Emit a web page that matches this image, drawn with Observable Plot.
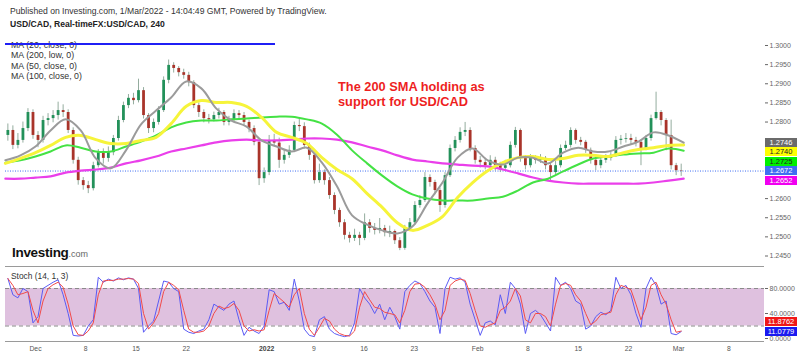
<!DOCTYPE html>
<html><head><meta charset="utf-8">
<script src="https://cdn.jsdelivr.net/npm/d3@7"></script>
<script src="https://cdn.jsdelivr.net/npm/@observablehq/plot@0.6"></script>
<style>
body{margin:0;background:#fff;font-family:Arial,"Liberation Sans",sans-serif;}
#wrap{position:relative;width:800px;height:357px;overflow:hidden;background:#fff;}
.layer{position:absolute;left:0;}
.hline{position:absolute;height:1px;background:#9a9a9a;}
.box{position:absolute;left:765px;width:32px;height:9px;font-size:7.5px;line-height:9px;text-align:center;}
</style></head><body><div id="wrap"></div>
<script>
// ---------- DATA (12h candles, trading-day index; Dec 1 = day 3) ----------
const firstOpen = 1.2765;
const closes = [1.2778,1.2739,1.2752,1.2783,1.2825,1.2765,1.2752,1.2804,1.2809,1.2817,
 1.2830,1.2825,1.2778,1.2700,1.2647,1.2634,1.2626,1.2686,1.2720,1.2705,
 1.2720,1.2757,1.2804,1.2843,1.2862,1.2856,1.2882,1.2817,1.2783,1.2799,
 1.2830,1.2909,1.2948,1.2940,1.2929,1.2922,1.2903,1.2843,1.2825,1.2809,
 1.2806,1.2817,1.2825,1.2799,1.2804,1.2822,1.2817,1.2799,1.2783,1.2747,
 1.2652,1.2668,1.2752,1.2745,1.2700,1.2713,1.2726,1.2791,1.2788,1.2739,
 1.2713,1.2647,1.2668,1.2647,1.2608,1.2569,1.2537,1.2504,1.2496,1.2504,
 1.2496,1.2537,1.2522,1.2517,1.2522,1.2511,1.2514,1.2490,1.2470,1.2522,
 1.2537,1.2582,1.2595,1.2655,1.2642,1.2621,1.2582,1.2660,1.2731,1.2752,
 1.2773,1.2778,1.2731,1.2700,1.2694,1.2686,1.2700,1.2686,1.2679,1.2686,
 1.2739,1.2778,1.2705,1.2686,1.2705,1.2700,1.2705,1.2686,1.2668,1.2686,
 1.2731,1.2739,1.2778,1.2752,1.2747,1.2726,1.2700,1.2686,1.2700,1.2705,
 1.2713,1.2752,1.2755,1.2757,1.2752,1.2747,1.2731,1.2757,1.2809,1.2825,
 1.2804,1.2765,1.2686,1.2673,1.2672];
const highs = [1.2795,1.2790,1.2770,1.2800,1.2835,1.2832,1.2775,1.2815,1.2822,1.2830,
 1.2852,1.2845,1.2832,1.2785,1.2708,1.2655,1.2645,1.2695,1.2728,1.2730,
 1.2735,1.2765,1.2815,1.2852,1.2872,1.2875,1.2912,1.2890,1.2822,1.2808,
 1.2840,1.2918,1.2962,1.2955,1.2945,1.2938,1.2930,1.2908,1.2850,1.2832,
 1.2820,1.2826,1.2836,1.2830,1.2815,1.2832,1.2830,1.2825,1.2805,1.2790,
 1.2752,1.2680,1.2765,1.2768,1.2758,1.2725,1.2738,1.2800,1.2812,1.2798,
 1.2745,1.2718,1.2690,1.2675,1.2655,1.2615,1.2575,1.2545,1.2512,1.2520,
 1.2512,1.2560,1.2545,1.2535,1.2548,1.2530,1.2528,1.2518,1.2498,1.2530,
 1.2548,1.2592,1.2608,1.2668,1.2662,1.2648,1.2628,1.2668,1.2740,1.2762,
 1.2785,1.2799,1.2785,1.2738,1.2710,1.2705,1.2712,1.2708,1.2695,1.2700,
 1.2748,1.2786,1.2782,1.2712,1.2715,1.2712,1.2715,1.2710,1.2692,1.2698,
 1.2740,1.2750,1.2785,1.2782,1.2760,1.2752,1.2732,1.2708,1.2712,1.2715,
 1.2722,1.2762,1.2765,1.2770,1.2768,1.2760,1.2752,1.2765,1.2818,1.2878,
 1.2830,1.2809,1.2805,1.2692,1.2690];
const lows = [1.2750,1.2728,1.2730,1.2745,1.2775,1.2755,1.2733,1.2745,1.2790,1.2798,
 1.2805,1.2812,1.2770,1.2690,1.2635,1.2622,1.2613,1.2620,1.2680,1.2690,
 1.2695,1.2712,1.2750,1.2798,1.2835,1.2845,1.2850,1.2808,1.2770,1.2772,
 1.2792,1.2825,1.2900,1.2928,1.2918,1.2912,1.2892,1.2835,1.2812,1.2798,
 1.2795,1.2800,1.2808,1.2790,1.2790,1.2798,1.2806,1.2790,1.2772,1.2738,
 1.2634,1.2640,1.2660,1.2738,1.2679,1.2690,1.2705,1.2720,1.2775,1.2730,
 1.2700,1.2638,1.2640,1.2635,1.2598,1.2558,1.2525,1.2492,1.2484,1.2488,
 1.2477,1.2490,1.2510,1.2505,1.2508,1.2500,1.2498,1.2480,1.2464,1.2465,
 1.2515,1.2530,1.2575,1.2590,1.2630,1.2610,1.2564,1.2575,1.2655,1.2722,
 1.2745,1.2762,1.2722,1.2690,1.2680,1.2675,1.2678,1.2672,1.2668,1.2672,
 1.2680,1.2732,1.2695,1.2675,1.2680,1.2690,1.2692,1.2675,1.2642,1.2660,
 1.2680,1.2725,1.2732,1.2742,1.2738,1.2718,1.2690,1.2673,1.2678,1.2692,
 1.2698,1.2708,1.2740,1.2745,1.2740,1.2735,1.2686,1.2725,1.2750,1.2805,
 1.2790,1.2725,1.2675,1.2660,1.2658];

// moving averages sampled every 1.5 trading days
const ma20 = [1.2700,1.2713,1.2736,1.2778,1.2807,1.2778,1.2705,1.2679,1.2726,1.2794,
 1.2830,1.2864,1.2906,1.2888,1.2835,1.2804,1.2788,1.2752,1.2736,1.2723,
 1.2733,1.2694,1.2632,1.2556,1.2532,1.2517,1.2509,1.2527,1.2587,1.2642,
 1.2707,1.2731,1.2700,1.2689,1.2707,1.2707,1.2692,1.2720,1.2733,1.2723,
 1.2723,1.2736,1.2749,1.2773,1.2765,1.2746];
const ma50 = [1.2692,1.2705,1.2720,1.2739,1.2760,1.2765,1.2754,1.2744,1.2744,1.2752,
 1.2760,1.2796,1.2841,1.2856,1.2851,1.2851,1.2841,1.2812,1.2773,1.2760,
 1.2744,1.2707,1.2676,1.2652,1.2613,1.2577,1.2537,1.2517,1.2530,1.2553,
 1.2603,1.2642,1.2673,1.2694,1.2707,1.2710,1.2702,1.2705,1.2713,1.2713,
 1.2710,1.2720,1.2728,1.2733,1.2739,1.2740];
const ma100 = [1.2694,1.2700,1.2710,1.2723,1.2739,1.2733,1.2723,1.2723,1.2736,1.2749,
 1.2765,1.2786,1.2799,1.2804,1.2804,1.2807,1.2809,1.2812,1.2814,1.2814,
 1.2807,1.2796,1.2767,1.2726,1.2692,1.2660,1.2632,1.2611,1.2600,1.2595,
 1.2595,1.2595,1.2600,1.2605,1.2621,1.2642,1.2652,1.2671,1.2689,1.2705,
 1.2710,1.2715,1.2718,1.2720,1.2731,1.2725];
const ma200 = [1.2652,1.2652,1.2655,1.2658,1.2668,1.2673,1.2676,1.2681,1.2692,1.2700,
 1.2710,1.2723,1.2731,1.2739,1.2747,1.2752,1.2754,1.2752,1.2752,1.2754,
 1.2757,1.2757,1.2754,1.2747,1.2736,1.2726,1.2713,1.2702,1.2697,1.2692,
 1.2689,1.2686,1.2684,1.2676,1.2666,1.2655,1.2647,1.2642,1.2639,1.2639,
 1.2639,1.2639,1.2639,1.2642,1.2647,1.2652];

// Stochastic (14,1,3): %K and %D per candle
const stochK = [96,70,65,80,75,25,35,80,85,90,
 94,70,40,5,4,5,20,30,98,90,
 95,92,97,94,97,95,80,10,20,28,
 60,92,90,80,75,15,10,8,12,15,
 30,55,50,45,55,60,30,5,18,12,
 8,20,78,75,55,58,45,95,60,15,
 5,3,30,35,15,8,5,3,5,25,
 80,65,55,40,55,30,50,35,15,75,
 85,92,88,75,60,50,8,80,98,95,
 97,90,55,30,5,25,28,22,70,40,
 90,80,55,8,40,45,38,25,12,98,
 85,90,80,60,55,15,20,35,42,38,
 45,98,80,85,70,40,18,80,98,85,
 55,60,8,6,11.0779];
const stochD = [96,85,70,72,75,45,25,60,80,86,
 90,82,55,20,6,5,12,25,70,92,
 93,93,95,95,96,95,88,40,15,25,
 40,75,90,85,78,45,15,10,10,12,
 20,40,52,48,50,56,45,20,12,14,
 12,14,45,72,65,58,50,70,80,40,
 15,5,18,32,28,15,8,5,4,12,
 50,75,62,50,48,42,40,38,25,45,
 75,87,88,82,70,55,30,45,85,92,
 95,93,72,45,20,18,22,25,45,50,
 60,80,68,30,25,40,40,35,20,55,
 85,88,85,70,60,40,22,28,38,40,
 42,70,85,82,78,55,30,50,85,90,
 70,55,30,10,11.8762];

const yTicks = [1.245,1.250,1.255,1.260,1.265,1.270,1.275,1.280,1.285,1.290,1.295,1.300];
const stochTicks = [0,40,80];
const stochBand = [20,80];
const xTickDays = [3,8,13,18,26,30.7,35.7,40.7,47,52,57,62,67,72];
const xTickLabels = ["Dec","8","15","22","2022","9","16","23","Feb","8","15","22","Mar","8"];
const maLegend = ["MA (20, close, 0)","MA (200, low, 0)","MA (50, close, 0)","MA (100, close, 0)"];

// ---------- BUILD ----------
const UP = "#23915a", DOWN = "#a9342a", WICK = "#94ac9e";
const X_DOMAIN = [0.015, 75.54];
const Y_DOMAIN = [1.24226, 1.30235];
const S_DOMAIN = [-6.4, 115.2];
const MAIN_H = 230, STOCH_H = 91, STOCH_MB = 15;
const MAIN_TOP = 36, STOCH_TOP = 266;
const FONT = "Arial, 'Liberation Sans', sans-serif";
const f4 = d3.format(".4f");

const candles = closes.map((c, k) => {
  const o = k ? closes[k - 1] : firstOpen;
  return {t: k / 2 + 0.25, o, c, h: Math.max(highs[k], o, c), l: Math.min(lows[k], o, c), col: c >= o ? UP : DOWN};
});
const maRows = ma20.map((_, j) => ({t: j * 1.5, ma20: ma20[j], ma50: ma50[j], ma100: ma100[j], ma200: ma200[j]}));
const stochRows = stochK.map((k, i) => ({t: i / 2 + 0.25, k, d: stochD[i]}));
const xTicks = xTickDays.map((t, i) => ({t, label: xTickLabels[i], bold: xTickLabels[i] === "2022"}));
const last = closes[closes.length - 1];

// value boxes on the right axis: place them first so covered tick labels can be left out
function layoutBoxes(items, scale, dir) {
  const pos = items.map(d => ({...d, y: scale.apply(d.v)}));
  pos.sort((a, b) => a.y - b.y);
  const gap = 9.5;
  if (dir > 0) { for (let i = 1; i < pos.length; i++) if (pos[i].y - pos[i-1].y < gap) pos[i].y = pos[i-1].y + gap; }
  else { for (let i = pos.length - 2; i >= 0; i--) if (pos[i+1].y - pos[i].y < gap) pos[i].y = pos[i+1].y - gap; }
  return pos;
}
const yScale = Plot.scale({y: {domain: Y_DOMAIN, range: [MAIN_H, 0]}});
const sScale = Plot.scale({y: {domain: S_DOMAIN, range: [STOCH_H - STOCH_MB, 0]}});
const mainBoxes = layoutBoxes([
  {v: ma20[ma20.length - 1], bg: "#6b6b6b", fg: "#fff"},
  {v: ma50[ma50.length - 1], bg: "#ffff00", fg: "#222"},
  {v: ma100[ma100.length - 1], bg: "#00f000", fg: "#222"},
  {v: last, bg: "#3f6ef2", fg: "#fff"},
  {v: ma200[ma200.length - 1], bg: "#f000f0", fg: "#fff"}
], yScale, 1);
const stochBoxes = layoutBoxes([
  {v: stochD[stochD.length - 1], bg: "#f01818", fg: "#fff"},
  {v: stochK[stochK.length - 1], bg: "#1a1af0", fg: "#fff"}
], sScale, -1);
const visibleTicks = (ticks, scale, boxes) => ticks.filter(t => boxes.every(b => Math.abs(scale.apply(t) - b.y) > 8.5));

const wrap = d3.select("#wrap");

const main = Plot.plot({
  width: 800, height: MAIN_H,
  marginLeft: 5, marginRight: 36, marginTop: 0, marginBottom: 0,
  x: {domain: X_DOMAIN, axis: null},
  y: {domain: Y_DOMAIN, axis: null},
  color: {type: "identity"},
  style: {background: "transparent", overflow: "visible", fontFamily: FONT},
  marks: [
    Plot.ruleY([last], {stroke: "#3f6ef2", strokeDasharray: "1,1.5", strokeWidth: 1}),
    Plot.ruleX(candles, {x: "t", y1: "l", y2: "h", stroke: WICK, strokeWidth: 1}),
    Plot.ruleX(candles, {x: "t", y1: "o", y2: "c", stroke: "col", strokeWidth: 2.8}),
    Plot.line(maRows, {x: "t", y: "ma200", stroke: "#ea3fea", strokeWidth: 2.2, curve: "catmull-rom"}),
    Plot.line(maRows, {x: "t", y: "ma100", stroke: "#44e244", strokeWidth: 2, curve: "catmull-rom"}),
    Plot.line(maRows, {x: "t", y: "ma50", stroke: "#f6f43a", strokeWidth: 3, curve: "catmull-rom"}),
    Plot.line(maRows, {x: "t", y: "ma20", stroke: "#9b9b9b", strokeWidth: 2, curve: "catmull-rom"}),
    Plot.axisY({anchor: "right", ticks: visibleTicks(yTicks, yScale, mainBoxes), tickFormat: f4, tickSize: 3, tickPadding: 2,
      fontSize: 7, color: "#666", line: true, label: null})
  ]
});

const stoch = Plot.plot({
  width: 800, height: STOCH_H,
  marginLeft: 5, marginRight: 36, marginTop: 0, marginBottom: STOCH_MB,
  x: {domain: X_DOMAIN, axis: null},
  y: {domain: S_DOMAIN, axis: null},
  style: {background: "transparent", overflow: "visible", fontFamily: FONT},
  marks: [
    Plot.rect([stochBand], {x1: X_DOMAIN[0], x2: X_DOMAIN[1], y1: d => d[0], y2: d => d[1], fill: "#dfc1df"}),
    Plot.ruleY(stochBand, {stroke: "#8a8a8a", strokeDasharray: "4,3"}),
    Plot.line(stochRows, {x: "t", y: "k", stroke: "#5b5bf5", strokeWidth: 1}),
    Plot.line(stochRows, {x: "t", y: "d", stroke: "#f24a4a", strokeWidth: 1}),
    Plot.axisY({anchor: "right", ticks: stochTicks, tickFormat: f4, tickSize: 3, tickPadding: 2,
      fontSize: 7, color: "#666", line: true, label: null}),
    Plot.text(xTicks.filter(d => !d.bold), {x: "t", text: "label", frameAnchor: "bottom", dy: 8, fontSize: 6.8, fill: "#555"}),
    Plot.text(xTicks.filter(d => d.bold), {x: "t", text: "label", frameAnchor: "bottom", dy: 8, fontSize: 6.8, fontWeight: "bold", fill: "#444"})
  ]
});

wrap.append("div").attr("class", "layer").style("top", MAIN_TOP + "px").node().appendChild(main);
wrap.append("div").attr("class", "layer").style("top", STOCH_TOP + "px").node().appendChild(stoch);
wrap.append("div").attr("class", "hline").style("top", "266px").style("left", "5px").style("width", "759px");
wrap.append("div").attr("class", "hline").style("top", "341px").style("left", "5px").style("width", "759px");

function drawBoxes(pos, top) {
  pos.forEach(d => {
    wrap.append("div").attr("class", "box")
      .style("top", (top + d.y - 4.5) + "px").style("background", d.bg).style("color", d.fg)
      .text(f4(d.v));
  });
}
drawBoxes(mainBoxes, MAIN_TOP);
drawBoxes(stochBoxes, STOCH_TOP);

// text overlay
const ov = wrap.append("svg").attr("width", 800).attr("height", 357)
  .style("position", "absolute").style("left", 0).style("top", 0).style("font-family", FONT);
ov.append("text").attr("x", 10).attr("y", 14).attr("font-size", 8.6).attr("fill", "#333")
  .text("Published on Investing.com, 1/Mar/2022 - 14:04:49 GMT, Powered by TradingView.");
ov.append("text").attr("x", 10).attr("y", 27).attr("font-size", 8.6).attr("font-weight", "bold").attr("fill", "#222")
  .text("USD/CAD, Real-timeFX:USD/CAD, 240");
maLegend.forEach((t, i) => {
  ov.append("text").attr("x", 11).attr("y", 47.5 + i * 10.5).attr("font-size", 8.8).attr("fill", "#333").text(t);
});
ov.append("line").attr("x1", 5).attr("x2", 275).attr("y1", 44).attr("y2", 44).attr("stroke", "#1f1ff5").attr("stroke-width", 2);
ov.append("text").attr("x", 338).attr("y", 91).attr("font-size", 12.8).attr("font-weight", "bold").attr("fill", "#ee1f1f").text("The 200 SMA holding as");
ov.append("text").attr("x", 338).attr("y", 106).attr("font-size", 12.8).attr("font-weight", "bold").attr("fill", "#ee1f1f").text("support for USD/CAD");
const logo = ov.append("text").attr("x", 12).attr("y", 257).attr("font-size", 13.5).attr("font-weight", "bold").attr("fill", "#111").attr("letter-spacing", -0.3);
logo.append("tspan").text("Investing");
logo.append("tspan").attr("font-size", 9).attr("font-weight", "normal").attr("fill", "#666").attr("letter-spacing", 0).text(".com");
ov.append("text").attr("x", 11).attr("y", 279).attr("font-size", 8.4).attr("fill", "#333").text("Stoch (14, 1, 3)");
</script></body></html>
